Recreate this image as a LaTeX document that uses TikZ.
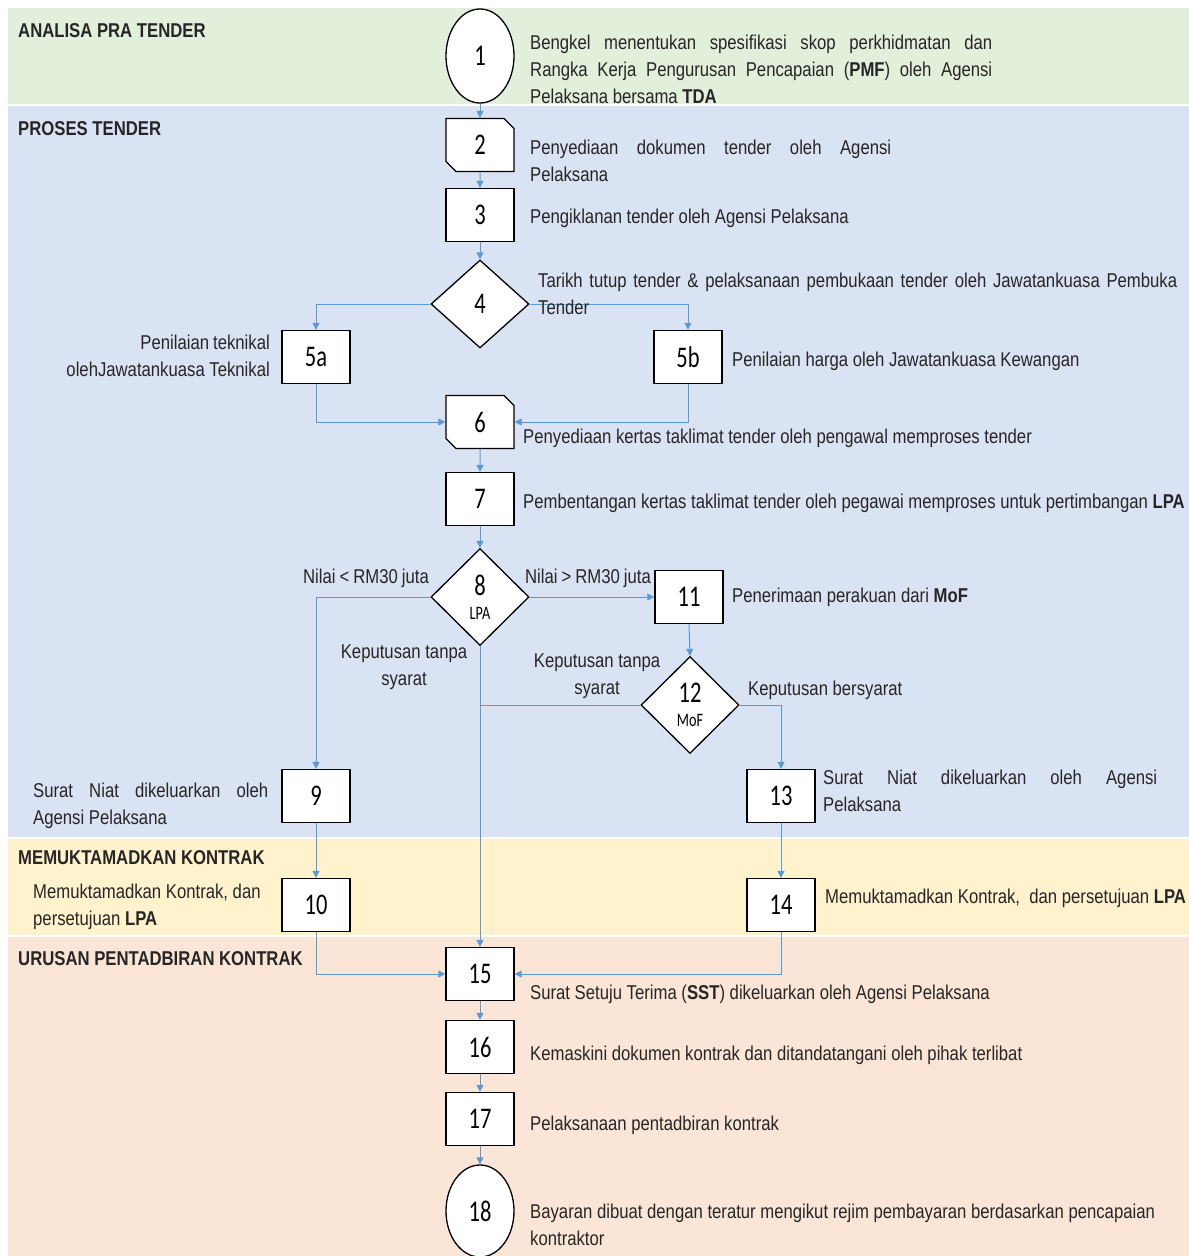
\documentclass[tikz,border=0pt]{standalone}
\usepackage{fontspec}
\setmainfont{Liberation Sans}[FakeStretch=0.835]
\newfontfamily\numfont{Carlito}[FakeStretch=0.75]
\usetikzlibrary{shapes.geometric,shapes.misc,arrows.meta}
\definecolor{bandgreen}{HTML}{E2EFDA}
\definecolor{bandblue}{HTML}{DAE3F3}
\definecolor{bandyellow}{HTML}{FFF2CC}
\definecolor{bandpeach}{HTML}{FBE5D6}
\definecolor{connblue}{HTML}{5B9BD5}
\definecolor{textgray}{HTML}{262626}
\newcommand\tightsp{\spaceskip=4pt plus 1pt\relax}
\begin{document}
\begin{tikzpicture}[x=1pt,y=-1pt,
  numshape/.style={draw=black,line width=1.3pt,fill=white,inner sep=0pt,
    font=\numfont\fontsize{30}{30}\selectfont},
  box/.style={numshape,rectangle,minimum width=68pt,minimum height=53pt},
  snipbox/.style={numshape,chamfered rectangle,
    chamfered rectangle corners={north east,south west},
    chamfered rectangle xsep=5pt,chamfered rectangle ysep=5pt,
    minimum width=68pt,minimum height=53pt},
  oval/.style={numshape,ellipse,minimum width=68pt,minimum height=94pt},
  decision/.style={numshape,diamond,minimum width=98pt,minimum height=97pt,align=center},
  txt/.style={inner sep=0pt,font=\fontsize{20}{27}\selectfont,text=textgray},
  head/.style={inner sep=0pt,font=\bfseries\fontsize{20}{24}\selectfont,text=textgray,anchor=base west},
  conn/.style={draw=connblue,line width=1pt,-{Triangle[length=7pt,width=7pt]}},
  line/.style={draw=connblue,line width=1pt}]
\useasboundingbox (0,0) rectangle (1189,1256);
\fill[white] (0,0) rectangle (1189,1256);
% bands
\fill[bandgreen] (8,8) rectangle (1189,104);
\fill[bandblue] (8,106) rectangle (1189,837);
\fill[bandyellow] (8,839) rectangle (1189,935);
\fill[bandpeach] (8,937) rectangle (1189,1256);
\node[head] (h1) at (18,37) {ANALISA PRA TENDER};
\node[head] (h2) at (18,135) {PROSES TENDER};
\node[head] (h3) at (18,864) {MEMUKTAMADKAN KONTRAK};
\node[head] (h4) at (18,965) {URUSAN PENTADBIRAN KONTRAK};

% shapes
\node[oval] (n1) at (480,56) {1};
\node[snipbox] (n2) at (480,145) {2};
\node[box] (n3) at (480,215) {3};
\node[decision,minimum height=88pt] (n4) at (480,304) {4};
\node[box] (n5a) at (316,357) {5a};
\node[box] (n5b) at (688,357) {5b};
\node[snipbox] (n6) at (480,422) {6};
\node[box] (n7) at (480,499) {7};
\node[decision] (n8) at (480,597) {8\\[-6pt]{\fontsize{19}{19}\selectfont LPA}};
\node[box] (n11) at (689,597) {11};
\node[decision] (n12) at (690,705) {12\\[-6pt]{\fontsize{19}{19}\selectfont MoF}};
\node[box] (n9) at (316,796) {9};
\node[box] (n13) at (781,796) {13};
\node[box] (n10) at (316,905) {10};
\node[box] (n14) at (781,905) {14};
\node[box] (n15) at (480,974) {15};
\node[box] (n16) at (480,1047) {16};
\node[box] (n17) at (480,1119) {17};
\node[oval,minimum height=92pt] (n18) at (480,1211) {18};

% connectors
\draw[conn] (n1) -- (n2);
\draw[conn] (n2) -- (n3);
\draw[conn] (n3) -- (n4);
\draw[conn] (n4.west) -| (n5a.north);
\draw[conn] (n4.east) -| (n5b.north);
\draw[conn] (n5a.south) |- (n6.west);
\draw[conn] (n5b.south) |- (n6.east);
\draw[conn] (n6) -- (n7);
\draw[conn] (n7) -- (n8);
\draw[conn] (n8.west) -| (n9.north);
\draw[conn] (n8.east) -- (n11.west);
\draw[conn] (n8.south) -- (n15.north);
\draw[conn] (n11.south) -- (n12.north);
\draw[line] (n12.west) -- (n12.west -| n8.south);
\draw[conn] (n12.east) -| (n13.north);
\draw[conn] (n9) -- (n10);
\draw[conn] (n13) -- (n14);
\draw[conn] (n10.south) |- (n15.west);
\draw[conn] (n14.south) |- (n15.east);
\draw[conn] (n15) -- (n16);
\draw[conn] (n16) -- (n17);
\draw[conn] (n17) -- (n18);

% texts
\node[txt,anchor=north west,align=left] (t1) at (530,35)
  {\makebox[462pt][s]{Bengkel menentukan spesifikasi skop perkhidmatan dan}\\
   \makebox[462pt][s]{Rangka Kerja Pengurusan Pencapaian (\textbf{PMF}) oleh Agensi}\\
   Pelaksana bersama \textbf{TDA}};
\node[txt,anchor=north west,align=left] (t2) at (530,140)
  {\makebox[361pt][s]{Penyediaan dokumen tender oleh Agensi}\\ Pelaksana};
\node[txt,anchor=base west] (t3) at (530,223) {Pengiklanan tender oleh Agensi Pelaksana};
\node[txt,anchor=north west,align=left] (t4) at (538,273)
  {\makebox[639pt][s]{Tarikh tutup tender \& pelaksanaan pembukaan tender oleh Jawatankuasa Pembuka}\\ Tender};
\node[txt,anchor=north east,align=right] (t5a) at (270,335)
  {\tightsp Penilaian teknikal\\ olehJawatankuasa Teknikal};
\node[txt,anchor=base west] (t5b) at (732,366) {Penilaian harga oleh Jawatankuasa Kewangan};
\node[txt,anchor=base west] (t6) at (523,443) {Penyediaan kertas taklimat tender oleh pengawal memproses tender};
\node[txt,anchor=base west] (t7) at (523,508) {Pembentangan kertas taklimat tender oleh pegawai memproses untuk pertimbangan \textbf{LPA}};
\node[txt,anchor=base] (l8w) at (366,583) {\tightsp Nilai < RM30 juta};
\node[txt,anchor=base] (l8e) at (588,583) {\tightsp Nilai > RM30 juta};
\node[txt,anchor=north,align=center] (l8s) at (404,645) {Keputusan tanpa\\ syarat};
\node[txt,anchor=base west] (t11) at (732,602) {Penerimaan perakuan dari \textbf{MoF}};
\node[txt,anchor=north,align=center] (l12w) at (597,654) {Keputusan tanpa\\ syarat};
\node[txt,anchor=base west] (l12e) at (748,695) {Keputusan bersyarat};
\node[txt,anchor=north west,align=left] (t9) at (33,783)
  {\makebox[235pt][s]{Surat Niat dikeluarkan oleh}\\ Agensi Pelaksana};
\node[txt,anchor=north west,align=left] (t13) at (823,770)
  {\makebox[334pt][s]{Surat Niat dikeluarkan oleh Agensi}\\ Pelaksana};
\node[txt,anchor=north west,align=left] (t10) at (33,884)
  {Memuktamadkan Kontrak, dan\\ persetujuan \textbf{LPA}};
\node[txt,anchor=base west] (t14) at (825,903) {Memuktamadkan Kontrak,~ dan persetujuan \textbf{LPA}};
\node[txt,anchor=base west] (t15) at (530,999) {Surat Setuju Terima (\textbf{SST}) dikeluarkan oleh Agensi Pelaksana};
\node[txt,anchor=base west] (t16) at (530,1060) {Kemaskini dokumen kontrak dan ditandatangani oleh pihak terlibat};
\node[txt,anchor=base west] (t17) at (530,1130) {Pelaksanaan pentadbiran kontrak};
\node[txt,anchor=north west,align=left] (t18) at (530,1204)
  {Bayaran dibuat dengan teratur mengikut rejim pembayaran berdasarkan pencapaian\\ kontraktor};
\end{tikzpicture}
\end{document}
